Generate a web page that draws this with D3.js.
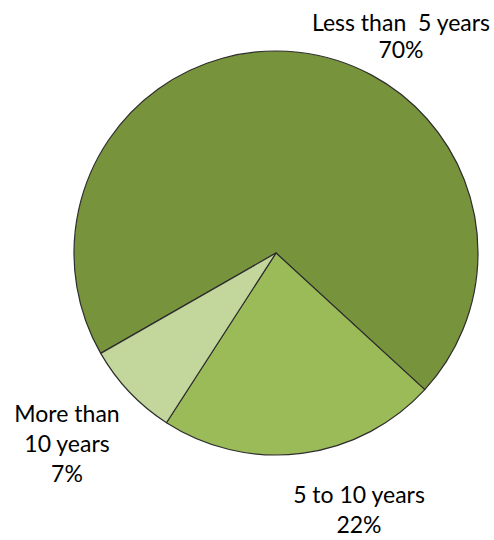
<!DOCTYPE html>
<html><head><meta charset="utf-8">
<script src="https://cdn.jsdelivr.net/npm/d3@7"></script>
<style>body{margin:0;background:#fff} text{white-space:pre}</style>
</head><body>
<svg id="chart" width="494" height="540"></svg>
<script>
const categories = ["Less than 5 years", "5 to 10 years", "More than 10 years"];
const values = [70.1, 22.3, 7.6];
const colors = ["#77933C", "#9BBB59", "#C3D69B"];
const labelLines = [["Less than  5 years"], ["5 to 10 years"], ["More than", "10 years"]];

const svg = d3.select("#chart");
const cx = 276, cy = 253, r = 202;
const start = 240.2 * Math.PI / 180;
const pie = d3.pie().sort(null).value(d => d.v).startAngle(start).endAngle(start + 2 * Math.PI);
const data = categories.map((c, i) => ({c, v: values[i], col: colors[i], lines: labelLines[i]}));
const arcs = pie(data);
const arc = d3.arc().innerRadius(0).outerRadius(r);
const g = svg.append("g").attr("transform", `translate(${cx},${cy})`);
g.selectAll("path").data(arcs).join("path")
  .attr("d", arc).attr("fill", d => d.data.col)
  .attr("stroke", "#2e2e2e").attr("stroke-width", 1.2).attr("stroke-linejoin", "round");

// label positions (centre x, first baseline y, line gap)
const labelPos = [[401, 31, 27], [359, 503, 30], [67, 422, 30]];
arcs.forEach((a, i) => {
  const [x, y, gap] = labelPos[i];
  const lines = a.data.lines.concat([Math.floor(a.data.v) + "%"]);
  const t = svg.append("text").attr("text-anchor", "middle")
    .attr("font-family", "Lato, 'Open Sans', sans-serif").attr("font-size", 23).attr("fill", "#000");
  lines.forEach((l, j) => t.append("tspan").attr("x", x).attr("y", y + j * gap).text(l));
});
</script>
</body></html>
